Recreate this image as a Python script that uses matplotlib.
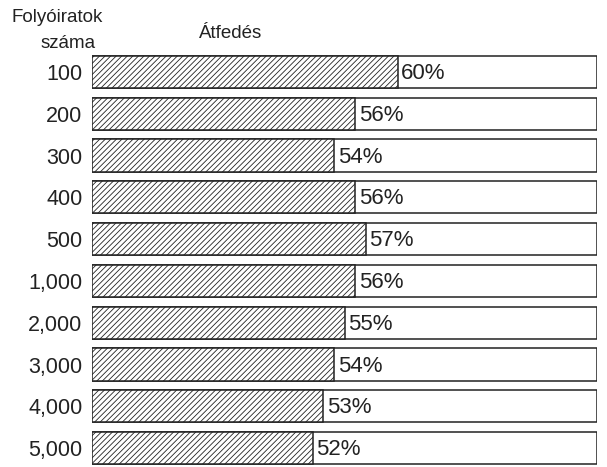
import matplotlib
matplotlib.use("Agg")
import matplotlib.pyplot as plt

plt.rcParams["font.family"] = ["Liberation Sans", "DejaVu Sans"]
plt.rcParams["hatch.linewidth"] = 0.6

# data
journals = ["100", "200", "300", "400", "500", "1,000", "2,000", "3,000", "4,000", "5,000"]
overlap = [60, 56, 54, 56, 57, 56, 55, 54, 53, 52]

# the original drawing uses a truncated scale: bars start near 31 %
XMIN, XMAX = 31.2, 78.8

fig = plt.figure(figsize=(6.07, 4.67), dpi=100)
ax = fig.add_axes([92 / 607, 1 - 469 / 467, 505 / 607, 418 / 467])

ys = list(range(len(journals)))
# full bar (white) and overlap part (hatched)
ax.barh(ys, [XMAX - XMIN] * len(ys), left=XMIN, height=0.77, color="white",
        edgecolor="#222222", linewidth=1.1)
ax.barh(ys, [v - XMIN for v in overlap], left=XMIN, height=0.77,
        color="white", edgecolor="#222222", linewidth=1.1, hatch="//////")

for y, v in zip(ys, overlap):
    ax.text(v + 0.35, y + 0.04, f"{v}%", ha="left", va="center",
            fontsize=16, color="#222222")

ax.set_xlim(XMIN, XMAX)
ax.set_ylim(9.5, -0.5)
ax.set_yticks(ys, journals, fontsize=15.5, color="#222222")
ax.tick_params(axis="y", length=0, pad=7)
ax.set_xticks([])
for s in ax.spines.values():
    s.set_visible(False)

fig.text(12 / 607, 1 - 18 / 467, "Folyóiratok", fontsize=13.5,
         ha="left", va="center", color="#222222")
fig.text(41 / 607, 1 - 43 / 467, "száma", fontsize=13.5,
         ha="left", va="center", color="#222222")
fig.text(199 / 607, 1 - 34 / 467, "Átfedés", fontsize=13.5,
         ha="left", va="center", color="#222222")

fig.savefig("out.png", dpi=100)
